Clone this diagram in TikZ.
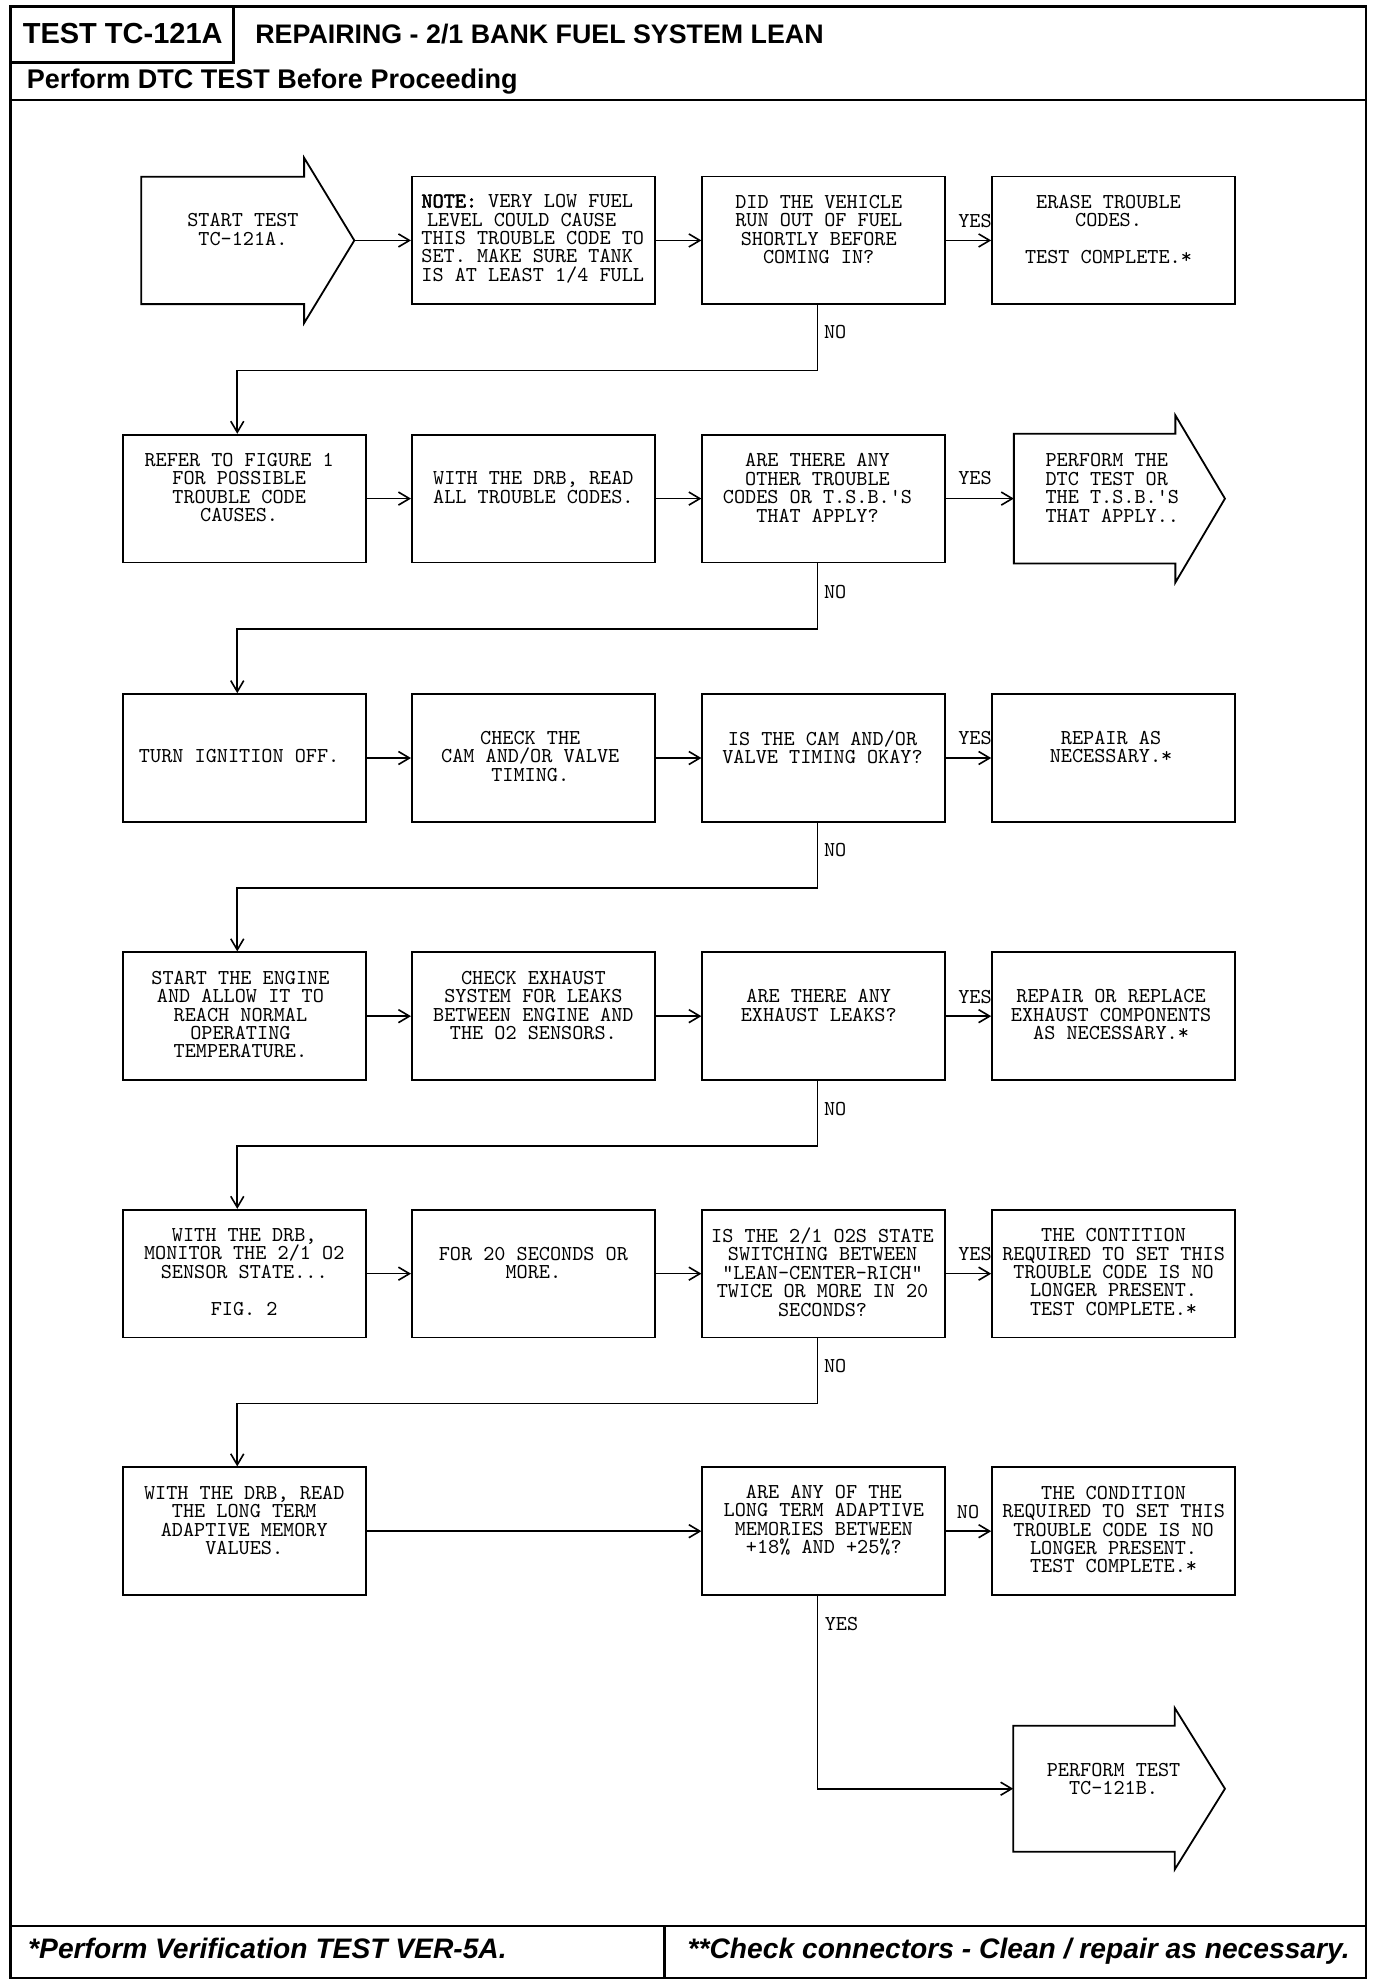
\documentclass[tikz,border=0pt]{standalone}
\usepackage{fontspec}
\setmainfont{Liberation Sans}
\newfontfamily\ttboldfam[FakeBold=2.5]{Latin Modern Mono}
\usetikzlibrary{arrows.meta,calc}
\newcommand\lmono{\ttfamily\fontsize{10.6}{9.24}\selectfont}
\begin{document}
\begin{tikzpicture}[x=0.6327pt,y=-0.6327pt,
  every node/.style={inner sep=0pt},
  box/.style={draw,line width=0.9pt,minimum width=192*0.6327pt,minimum height=101*0.6327pt},
  shaftbox/.style={minimum width=127*0.6327pt,minimum height=100*0.6327pt},
  outline/.style={line width=0.9pt,line join=miter},
  txt/.style={font=\lmono,align=center},
  lab/.style={font=\lmono},
  arr/.style={line width=0.8pt,-{Straight Barb[length=5.5pt,width=6.5pt]}},
  frame/.style={line width=1.4pt}]
\useasboundingbox (0,0) rectangle (1100,1571);

% ---------- frame, header, footer ----------
\draw[frame] (8.5,5) rectangle (1079.5,1563);
\draw[frame] (184.6,5) -- (184.6,49.5) -- (8.5,49.5);
\draw[frame] (8.5,79) -- (1079.5,79);
\draw[frame] (8.5,1522) -- (1079.5,1522);
\draw[frame] (525,1522) -- (525,1563);
\node[anchor=base,font=\bfseries\fontsize{14.5}{17}\selectfont] (ttl) at (97,34.2) {TEST TC-121A};
\node[anchor=base west,font=\bfseries\fontsize{13.4}{16}\selectfont] (hdr) at (201.5,34.2) {REPAIRING - 2/1 BANK FUEL SYSTEM LEAN};
\node[anchor=base west,font=\bfseries\fontsize{13.5}{16}\selectfont] (pre) at (21,70) {Perform DTC TEST Before Proceeding};
\node[anchor=base west,font=\bfseries\itshape\fontsize{14.1}{17}\selectfont] (ft1) at (22,1547.5) {*Perform Verification TEST VER-5A.};
\node[anchor=base,font=\bfseries\itshape\fontsize{14.1}{17}\selectfont] (ft2) at (805,1547.5) {**Check connectors - Clean / repair as necessary.};

% ---------- coordinates for connector bends ----------
\coordinate (vx) at (646,0);
\coordinate (lx) at (187.5,0);

% ---------- row 1 ----------
\node[shaftbox,minimum width=128*0.6327pt] (sa) at (176,190) {};
\coordinate (satip) at (280,190);
\draw[outline] (sa.south west) -- (sa.north west) -- (sa.north east) -- ++(0,-15) -- (satip)
  -- ($(sa.south east)+(0,15)$) -- (sa.south east) -- cycle;
\node[txt] (tsa) at (192,181.4) {START TEST\\TC-121A.};
\node[box] (b12) at (421.5,190) {};
\node[txt,align=left] (t12) at (421,188.7) {{\ttboldfam NOTE:} VERY LOW FUEL\\\hspace{2.8pt}LEVEL COULD CAUSE\\THIS TROUBLE CODE TO\\SET. MAKE SURE TANK\\IS AT LEAST 1/4 FULL};
\node[box] (b13) at (651,190) {};
\node[txt] (t13) at (647,181.4) {DID THE VEHICLE\\RUN OUT OF FUEL\\SHORTLY BEFORE\\COMING IN?};
\node[box] (b14) at (880,190) {};
\node[txt] (t14) at (876,181.4) {ERASE TROUBLE\\CODES.\\\mbox{}\\TEST COMPLETE.*};

% ---------- row 2 ----------
\node[box] (b21) at (193,394) {};
\node[txt] (t21) at (189,385.4) {REFER TO FIGURE 1\\FOR POSSIBLE\\TROUBLE CODE\\CAUSES.};
\node[box] (b22) at (421.5,394) {};
\node[txt] (t22) at (421.5,385.4) {WITH THE DRB, READ\\ALL TROUBLE CODES.};
\node[box] (b23) at (651,394) {};
\node[txt] (t23) at (646,385.4) {ARE THERE ANY\\OTHER TROUBLE\\CODES OR T.S.B.'S\\THAT APPLY?};
\node[shaftbox,minimum height=102*0.6327pt] (s24) at (865,394) {};
\coordinate (s24tip) at (968,394);
\draw[outline] (s24.south west) -- (s24.north west) -- (s24.north east) -- ++(0,-14.5) -- (s24tip)
  -- ($(s24.south east)+(0,15)$) -- (s24.south east) -- cycle;
\node[txt,align=left] (t24) at (879,385.4) {PERFORM THE\\DTC TEST OR\\THE T.S.B.'S\\THAT APPLY..};

% ---------- row 3 ----------
\node[box] (b31) at (193,599) {};
\node[txt] (t31) at (189,597.7) {TURN IGNITION OFF.};
\node[box] (b32) at (421.5,599) {};
\node[txt] (t32) at (419,597.7) {CHECK THE\\CAM AND/OR VALVE\\TIMING.};
\node[box] (b33) at (651,599) {};
\node[txt] (t33) at (650,590.4) {IS THE CAM AND/OR\\VALVE TIMING OKAY?};
\node[box] (b34) at (880,599) {};
\node[txt] (t34) at (878,590.4) {REPAIR AS\\NECESSARY.*};

% ---------- row 4 ----------
\node[box] (b41) at (193,803) {};
\node[txt] (t41) at (190,801.7) {START THE ENGINE\\AND ALLOW IT TO\\REACH NORMAL\\OPERATING\\TEMPERATURE.};
\node[box] (b42) at (421.5,803) {};
\node[txt] (t42) at (421.5,794.4) {CHECK EXHAUST\\SYSTEM FOR LEAKS\\BETWEEN ENGINE AND\\THE O2 SENSORS.};
\node[box] (b43) at (651,803) {};
\node[txt] (t43) at (647,794.4) {ARE THERE ANY\\EXHAUST LEAKS?};
\node[box] (b44) at (880,803) {};
\node[txt] (t44) at (878,801.7) {REPAIR OR REPLACE\\EXHAUST COMPONENTS\\AS NECESSARY.*};

% ---------- row 5 ----------
\node[box] (b51) at (193.5,1006.5) {};
\node[txt] (t51) at (193,1005.2) {WITH THE DRB,\\MONITOR THE 2/1 O2\\SENSOR STATE...\\\mbox{}\\FIG. 2};
\node[box] (b52) at (421.5,1006.5) {};
\node[txt] (t52) at (421.5,997.9) {FOR 20 SECONDS OR\\MORE.};
\node[box] (b53) at (651,1006.5) {};
\node[txt] (t53) at (650,1005.2) {IS THE 2/1 O2S STATE\\SWITCHING BETWEEN\\"LEAN-CENTER-RICH"\\TWICE OR MORE IN 20\\SECONDS?};
\node[box] (b54) at (880,1006.5) {};
\node[txt] (t54) at (880,1005.2) {THE CONTITION\\REQUIRED TO SET THIS\\TROUBLE CODE IS NO\\LONGER PRESENT.\\TEST COMPLETE.*};

% ---------- row 6 ----------
\node[box] (b61) at (193,1210) {};
\node[txt] (t61) at (193,1201.4) {WITH THE DRB, READ\\THE LONG TERM\\ADAPTIVE MEMORY\\VALUES.};
\node[box] (b63) at (651,1210) {};
\node[txt] (t63) at (651,1201.4) {ARE ANY OF THE\\LONG TERM ADAPTIVE\\MEMORIES BETWEEN\\+18\% AND +25\%?};
\node[box] (b64) at (880,1210) {};
\node[txt] (t64) at (880,1208.7) {THE CONDITION\\REQUIRED TO SET THIS\\TROUBLE CODE IS NO\\LONGER PRESENT.\\TEST COMPLETE.*};

% ---------- final arrow ----------
\node[shaftbox,minimum height=99*0.6327pt] (sf) at (864.5,1413.5) {};
\coordinate (sftip) at (968,1413.5);
\draw[outline] (sf.south west) -- (sf.north west) -- (sf.north east) -- ++(0,-14) -- (sftip)
  -- ($(sf.south east)+(0,14)$) -- (sf.south east) -- cycle;
\node[txt] (tsf) at (880,1406) {PERFORM TEST\\TC-121B.};

% ---------- connectors ----------
\draw[arr] (satip) -- (b12);
\draw[arr] (b12) -- (b13);
\draw[arr] (b13) -- (b14);
\draw[arr] (b13.south -| vx) -- ++(0,51.5) -| (b21.north -| lx);

\draw[arr] (b21) -- (b22);
\draw[arr] (b22) -- (b23);
\draw[arr] (b23) -- (s24);
\draw[arr] (b23.south -| vx) -- ++(0,52) -| (b31.north -| lx);

\draw[arr] (b31) -- (b32);
\draw[arr] (b32) -- (b33);
\draw[arr] (b33) -- (b34);
\draw[arr] (b33.south -| vx) -- ++(0,51.5) -| (b41.north -| lx);

\draw[arr] (b41) -- (b42);
\draw[arr] (b42) -- (b43);
\draw[arr] (b43) -- (b44);
\draw[arr] (b43.south -| vx) -- ++(0,51.5) -| (b51.north -| lx);

\draw[arr] (b51) -- (b52);
\draw[arr] (b52) -- (b53);
\draw[arr] (b53) -- (b54);
\draw[arr] (b53.south -| vx) -- ++(0,51.5) -| (b61.north -| lx);

\draw[arr] (b61) -- (b63);
\draw[arr] (b63) -- (b64);
\draw[arr] (b63.south -| vx) |- (sf.west);

% ---------- labels ----------
\node[lab] (y1) at (770.5,174.6) {YES};
\node[lab] (y2) at (770.5,377.6) {YES};
\node[lab] (y3) at (770.5,583.1) {YES};
\node[lab] (y4) at (770.5,787.6) {YES};
\node[lab] (y5) at (770.5,991.1) {YES};
\node[lab] (n6) at (765,1194.6) {NO};
\node[lab] (n1) at (660,262.5) {NO};
\node[lab] (n2) at (660,467.5) {NO};
\node[lab] (n3) at (660,672) {NO};
\node[lab] (n4) at (660,876) {NO};
\node[lab] (n5) at (660,1079.5) {NO};
\node[lab] (y6) at (665,1283) {YES};
\end{tikzpicture}
\end{document}
